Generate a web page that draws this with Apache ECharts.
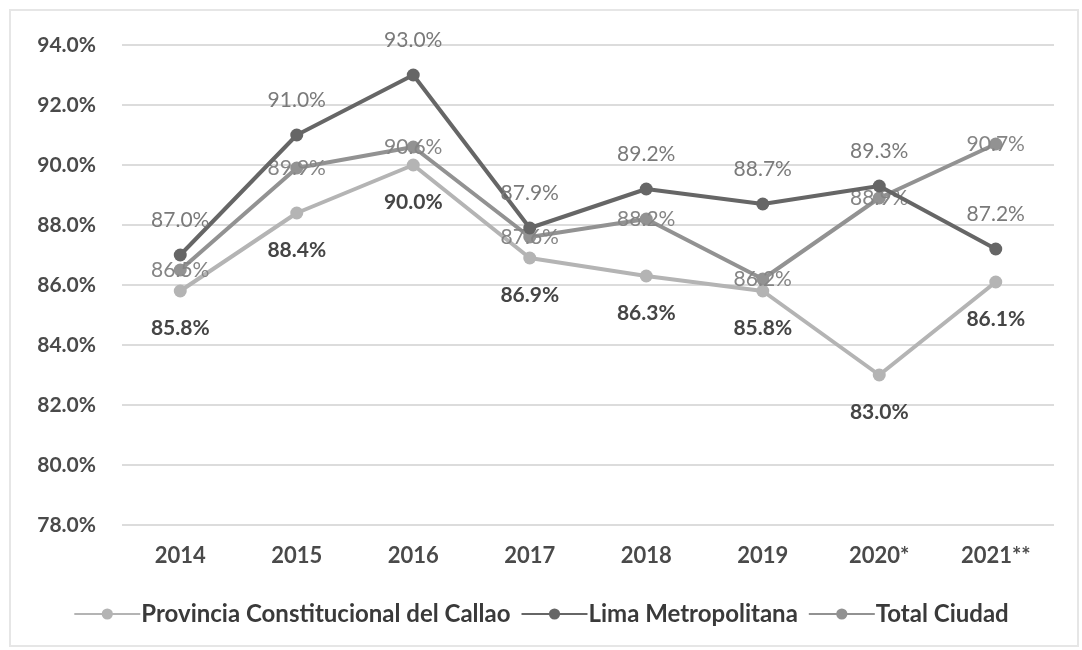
<!DOCTYPE html>
<html>
<head>
<meta charset="utf-8">
<script src="https://cdn.jsdelivr.net/npm/echarts@6/dist/echarts.min.js"></script>
<style>
html,body{margin:0;padding:0;background:#fff;}
#c{width:1082px;height:650px;}
</style>
</head>
<body>
<div id="c"></div>
<script>
const categories = ['2014','2015','2016','2017','2018','2019','2020*','2021**'];
const callao = [85.8, 88.4, 90.0, 86.9, 86.3, 85.8, 83.0, 86.1];
const lima = [87.0, 91.0, 93.0, 87.9, 89.2, 88.7, 89.3, 87.2];
const total = [86.5, 89.9, 90.6, 87.6, 88.2, 86.2, 88.9, 90.7];
const seriesNames = ['Provincia Constitucional del Callao', 'Lima Metropolitana', 'Total Ciudad'];
const yMin = 78, yMax = 94, yStep = 2;

const chart = echarts.init(document.getElementById('c'));
const fontFam = 'Lato, "Open Sans", sans-serif';
function pct(p){ return p.value.toFixed(1) + '%'; }

chart.setOption({
  backgroundColor: '#fff',
  animation: false,
  graphic: [{
    type: 'rect', shape: {x: 10, y: 10, width: 1068, height: 636},
    style: {fill: 'none', stroke: '#e6e6e6', lineWidth: 2}, silent: true
  }],
  grid: {left: 122, right: 28, top: 45, bottom: 125},
  legend: {
    bottom: 19, left: 'center',
    itemWidth: 66, itemHeight: 14, itemGap: 10,
    textStyle: {fontFamily: fontFam, fontSize: 24, color: '#3a3a3a', fontWeight: 'bold', padding: [0, 0, 0, -4]},
    data: seriesNames
  },
  xAxis: {
    type: 'category', data: categories, boundaryGap: true,
    axisLine: {show: false}, axisTick: {show: false},
    axisLabel: {fontFamily: fontFam, fontSize: 22, fontWeight: 'bold', color: '#4a4a4a', margin: 20}
  },
  yAxis: {
    type: 'value', min: yMin, max: yMax, interval: yStep,
    axisLine: {show: false}, axisTick: {show: false},
    splitLine: {lineStyle: {color: '#dcdcdc', width: 2}},
    axisLabel: {fontFamily: fontFam, fontSize: 21, fontWeight: 'bold', color: '#4a4a4a', margin: 26,
      formatter: v => v.toFixed(1) + '%'}
  },
  series: [
    {
      name: seriesNames[0], type: 'line', data: callao,
      symbol: 'circle', symbolSize: 13,
      lineStyle: {color: '#b4b4b4', width: 4},
      itemStyle: {color: '#b4b4b4'},
      label: {show: true, position: 'bottom', distance: 20, formatter: pct,
        fontFamily: fontFam, fontSize: 21, fontWeight: 'bold', color: '#454545'},
      z: 2
    },
    {
      name: seriesNames[1], type: 'line', data: lima,
      symbol: 'circle', symbolSize: 13,
      lineStyle: {color: '#666666', width: 4},
      itemStyle: {color: '#666666'},
      label: {show: true, position: 'top', distance: 18, formatter: pct,
        fontFamily: fontFam, fontSize: 21, color: '#7a7a7a'},
      z: 4
    },
    {
      name: seriesNames[2], type: 'line', data: total,
      symbol: 'circle', symbolSize: 13,
      lineStyle: {color: '#929292', width: 4},
      itemStyle: {color: '#929292'},
      label: {show: true, position: 'inside', formatter: pct,
        fontFamily: fontFam, fontSize: 21, color: '#858585'},
      z: 3
    }
  ]
});
</script>
</body>
</html>
